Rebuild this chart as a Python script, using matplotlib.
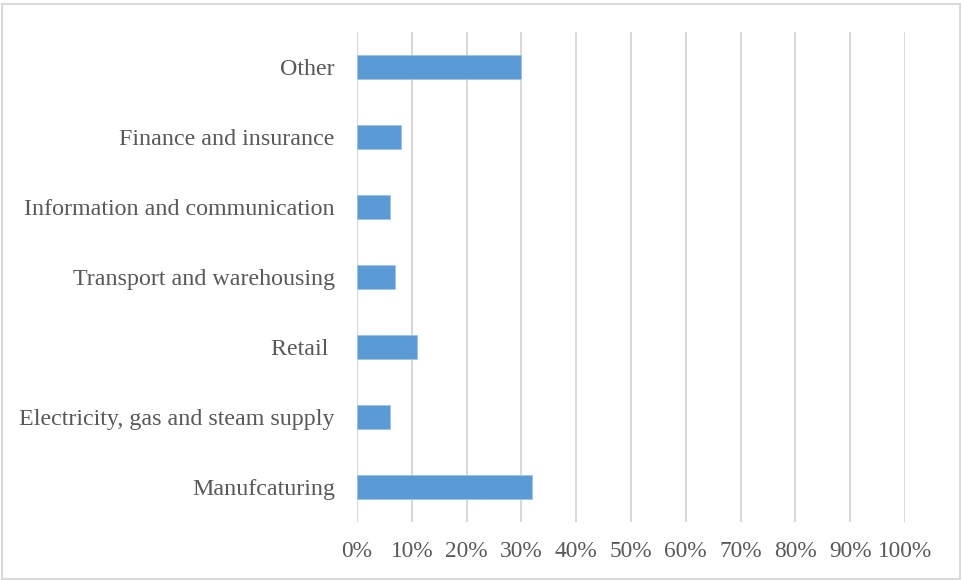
import matplotlib
matplotlib.use("Agg")
import matplotlib.pyplot as plt
from matplotlib.patches import Rectangle
from matplotlib.ticker import PercentFormatter

# Sector shares, listed bottom to top
sectors = [
    "Manufcaturing",
    "Electricity, gas and steam supply",
    "Retail ",
    "Transport and warehousing",
    "Information and communication",
    "Finance and insurance",
    "Other",
]
shares = [32, 6, 11, 7, 6, 8, 30]

x_ticks = list(range(0, 101, 10))

text_color = "#595959"
bar_color = "#5b9bd5"
grid_color = "#d9d9d9"

plt.rcParams["font.family"] = ["Liberation Serif", "DejaVu Serif"]

fig = plt.figure(figsize=(9.61, 5.80), dpi=100)
ax = fig.add_axes([357 / 961, 58 / 580, 548 / 961, 490 / 580])

positions = range(len(sectors))
ax.barh(positions, shares, height=0.34, color=bar_color,
        edgecolor="#9dc3e6", linewidth=0.6, zorder=3)

ax.set_xlim(0, 100)
ax.set_ylim(-0.5, len(sectors) - 0.5)
ax.set_xticks(x_ticks)
ax.xaxis.set_major_formatter(PercentFormatter(decimals=0))
ax.set_yticks(list(positions))
ax.set_yticklabels(sectors)

ax.grid(axis="x", color=grid_color, linewidth=1.5, zorder=0)
ax.grid(axis="y", visible=False)
for side in ("top", "right", "bottom", "left"):
    ax.spines[side].set_visible(False)

ax.tick_params(axis="both", length=0, labelcolor=text_color)
ax.tick_params(axis="y", pad=16, labelsize=17.3)
ax.tick_params(axis="x", pad=13.5, labelsize=16.8)

# Light frame around the whole chart area
fig.patches.append(Rectangle((1.5 / 961, 1.5 / 580), 958 / 961, 575 / 580,
                             transform=fig.transFigure, fill=False,
                             edgecolor="#d9d9d9", linewidth=1.5))

fig.savefig("out.png", dpi=100)
